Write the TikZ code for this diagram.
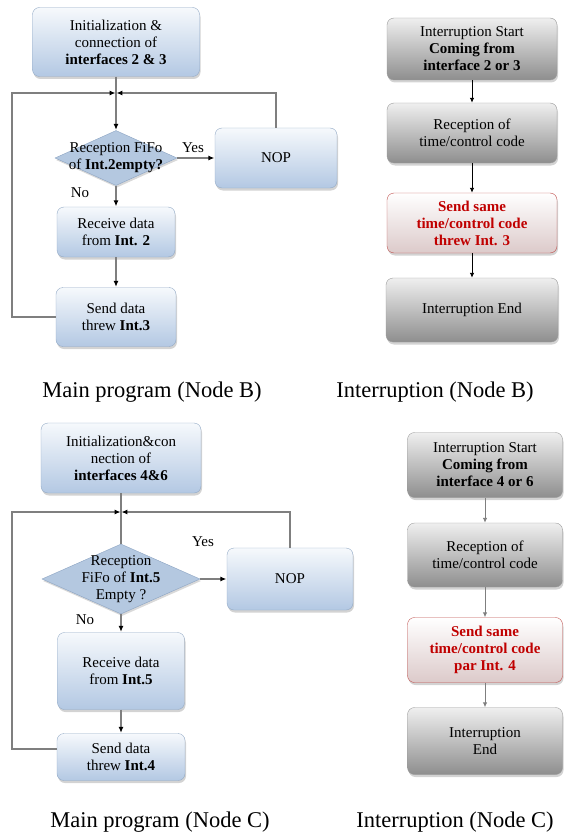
\documentclass[tikz,border=0pt]{standalone}
\usepackage{fontspec}
\setmainfont{Liberation Serif}
\usetikzlibrary{shapes.geometric,arrows.meta,shadows}

\definecolor{maintop}{HTML}{F6F9FC}
\definecolor{mainbot}{HTML}{B3C8E3}
\definecolor{mainedge}{HTML}{93AAC6}
\definecolor{decfill}{HTML}{B4C8E0}
\definecolor{decedge}{HTML}{8BA3C2}
\definecolor{inttop}{HTML}{EFEFEF}
\definecolor{intbot}{HTML}{8E8E8E}
\definecolor{intedge}{HTML}{9A9A9A}
\definecolor{redbot}{HTML}{DCCACA}
\definecolor{rededge}{HTML}{C0504D}
\definecolor{redtext}{HTML}{C00000}
\definecolor{linegray}{HTML}{7F7F7F}

\begin{document}
\begin{tikzpicture}[x=1pt,y=-1pt]
    \tikzstyle{box}=[rectangle, rounded corners=7pt, align=center, inner sep=2pt,
        font=\rmfamily\fontsize{15}{17}\selectfont,
        drop shadow={shadow xshift=1pt, shadow yshift=-2.5pt, opacity=0.35}]
    \tikzstyle{mainbox}=[box, draw=mainedge, top color=maintop, bottom color=mainbot]
    \tikzstyle{intbox}=[box, draw=intedge, top color=inttop, bottom color=intbot]
    \tikzstyle{redbox}=[box, draw=rededge, top color=white, bottom color=redbot,
        text=redtext, font=\rmfamily\fontsize{15}{17}\selectfont\bfseries]
    \tikzstyle{decision}=[diamond, draw=decedge, fill=decfill, inner sep=0pt,
        drop shadow={shadow xshift=1pt, shadow yshift=-2pt, opacity=0.3}]
    \tikzstyle{lbl}=[font=\rmfamily\fontsize{15}{17}\selectfont, align=center]
    \tikzstyle{capt}=[font=\rmfamily\fontsize{22.5}{25}\selectfont]
    \tikzstyle{conn}=[draw=linegray, line width=1.3pt]
    \tikzstyle{arr}=[conn, -{Latex[black,length=6pt,width=5pt]}, shorten >=0.4pt]
    \tikzstyle{arrB}=[draw=black, line width=0.9pt, -{Latex[length=5pt,width=4.5pt]}]
    \tikzstyle{arrC}=[draw=linegray, line width=0.9pt, -{Latex[length=5pt,width=4.5pt]}]

    \useasboundingbox (0,0) rectangle (564,832);

    % main program, node B
    \node[mainbox, minimum width=167pt, minimum height=69pt] (initB) at (116,42)
        {Initialization \&\\connection of\\\textbf{interfaces 2 \& 3}};
    \node[decision, minimum width=122pt, minimum height=55pt] (dB) at (116,158) {};
    \node[lbl] (dBt) at (dB.center) {Reception FiFo\\of \textbf{Int.2empty?}};
    \node[mainbox, minimum width=122pt, minimum height=60pt] (nopB) at (276,158) {NOP};
    \node[mainbox, minimum width=118pt, minimum height=50pt] (recvB) at (116,232)
        {Receive data\\from \textbf{Int. 2}};
    \node[mainbox, minimum width=120pt, minimum height=59pt] (sendB) at (116,317)
        {Send data\\threw \textbf{Int.3}};
    \coordinate (mB) at (116,93);
    \coordinate (lB) at (12,93);
    \node[lbl] (yesB) at (193,148) {Yes};
    \node[lbl] (noB) at (80,193) {No};

    \draw[arr] (initB) -- (dB);
    \draw[arr] (dB.east) -- (nopB.west);
    \draw[arr] (dB.south) -- (recvB.north);
    \draw[arr] (recvB) -- (sendB);
    \draw[arr] (sendB.west) -| (lB) -- (mB);
    \draw[arr] (nopB.north) |- (mB);

    % interruption, node B
    \node[intbox, minimum width=170pt, minimum height=62pt] (isB) at (472,49)
        {Interruption Start\\\textbf{Coming from}\\\textbf{interface 2 or 3}};
    \node[intbox, minimum width=170pt, minimum height=60pt] (rcB) at (472,133)
        {Reception of\\time/control code};
    \node[redbox, minimum width=170pt, minimum height=60pt] (ssB) at (472,223)
        {Send same\\time/control code\\threw Int. 3};
    \node[intbox, minimum width=172pt, minimum height=64pt] (ieB) at (472,310)
        {Interruption End};

    \draw[arrB] (isB) -- (rcB);
    \draw[arrB] (rcB) -- (ssB);
    \draw[arrB] (ssB) -- (ieB);

    \node[capt] (capMB) at (152,392) {Main program (Node B)};
    \node[capt] (capIB) at (435,392) {Interruption (Node B)};

    % main program, node C
    \node[mainbox, minimum width=160pt, minimum height=70pt] (initC) at (121,458)
        {Initialization\&con\\nection of\\\textbf{interfaces 4\&6}};
    \node[decision, minimum width=158pt, minimum height=70pt] (dC) at (121,579) {};
    \node[lbl] (dCt) at (dC.center) {Reception\\FiFo of \textbf{Int.5}\\Empty ?};
    \node[mainbox, minimum width=126pt, minimum height=62pt] (nopC) at (290,579) {NOP};
    \node[mainbox, minimum width=127pt, minimum height=77pt] (recvC) at (121,671)
        {Receive data\\from \textbf{Int.5}};
    \node[mainbox, minimum width=128pt, minimum height=47pt] (sendC) at (121,757)
        {Send data\\threw \textbf{Int.4}};
    \coordinate (mC) at (121,512);
    \coordinate (lC) at (12,512);
    \node[lbl] (yesC) at (203,542) {Yes};
    \node[lbl] (noC) at (85,620) {No};

    \draw[conn] (initC) -- (dC);
    \draw[arr] (dC.east) -- (nopC.west);
    \draw[arr] (dC.south) -- (recvC.north);
    \draw[arr] (recvC) -- (sendC);
    \draw[arr] ([yshift=8pt]sendC.west) -| (lC) -- (mC);
    \draw[arr] (nopC.north) |- (mC);

    % interruption, node C
    \node[intbox, minimum width=155pt, minimum height=65pt] (isC) at (485,465)
        {Interruption Start\\\textbf{Coming from}\\\textbf{interface 4 or 6}};
    \node[intbox, minimum width=155pt, minimum height=64pt] (rcC) at (485,555)
        {Reception of\\time/control code};
    \node[redbox, minimum width=155pt, minimum height=65pt] (ssC) at (485,650)
        {Send same\\time/control code\\par Int. 4};
    \node[intbox, minimum width=155pt, minimum height=67pt] (ieC) at (485,741)
        {Interruption\\End};

    \draw[arrC] (isC) -- (rcC);
    \draw[arrC] (rcC) -- (ssC);
    \draw[arrC] (ssC) -- (ieC);

    \node[capt] (capMC) at (160,822) {Main program (Node C)};
    \node[capt] (capIC) at (455,822) {Interruption (Node C)};
\end{tikzpicture}
\end{document}
